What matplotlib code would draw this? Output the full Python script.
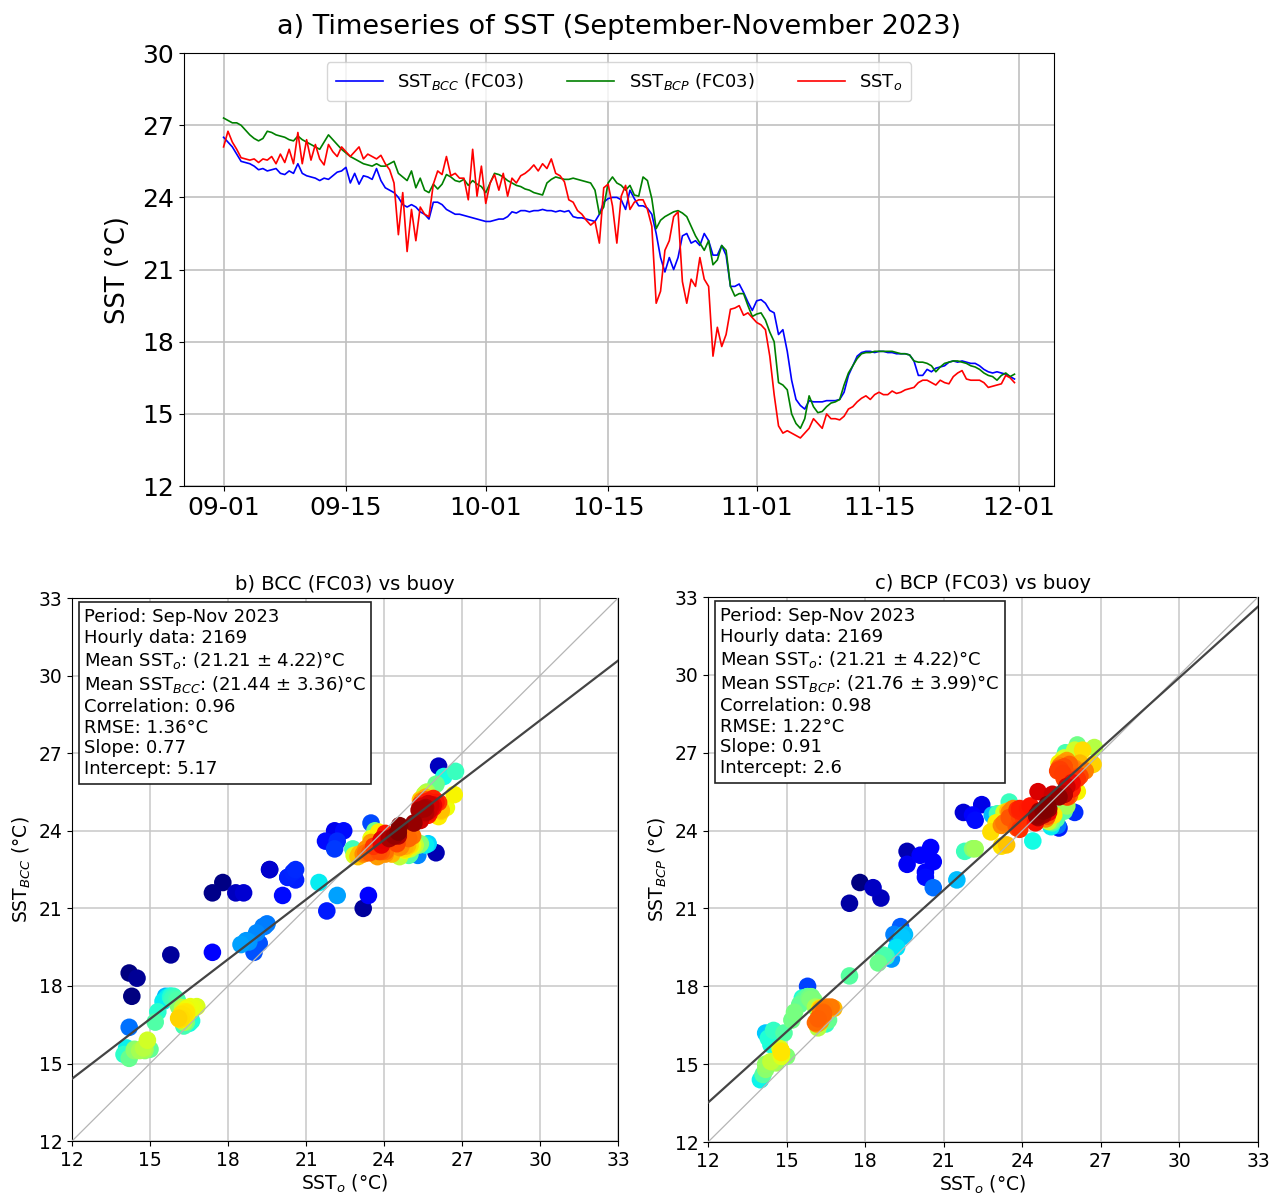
import numpy as np
import pandas as pd
import matplotlib
matplotlib.use('Agg')
import matplotlib.pyplot as plt
import matplotlib.dates as mdates

# SST series, one value every 12 h from 2023-09-01 00:00
sst_obs = [
    26.1, 26.75, 26.3, 26.0, 25.65, 25.6, 25.55, 25.6, 25.45, 25.6,
    25.55, 25.7, 25.4, 25.8, 25.45, 26.0, 25.4, 26.7, 25.4, 26.4,
    25.55, 26.2, 25.6, 25.35, 26.2, 25.9, 25.7, 26.1, 25.9, 25.7,
    25.9, 26.1, 25.6, 25.8, 25.7, 25.6, 25.75, 25.4, 25.15, 24.6,
    22.45, 24.2, 21.75, 23.5, 22.2, 23.6, 23.3, 23.2, 24.55, 25.1,
    24.95, 25.7, 24.9, 25.0, 24.8, 24.8, 23.9, 26.0, 24.05, 25.3,
    23.75, 24.6, 24.95, 24.3, 25.0, 24.05, 24.8, 24.6, 24.9, 25.0,
    25.15, 25.35, 25.1, 25.4, 25.2, 25.6, 25.0, 24.9, 24.65, 23.9,
    23.8, 23.45, 23.3, 23.05, 22.85, 23.0, 22.1, 24.4, 24.55, 23.65,
    22.1, 24.05, 24.5, 23.5, 23.8, 23.9, 23.9, 23.5, 22.8, 19.6,
    20.1, 21.8, 22.2, 23.2, 23.4, 20.5, 19.6, 20.6, 20.3, 21.5,
    20.6, 20.3, 17.4, 18.6, 17.8, 18.3, 19.35, 19.4, 19.5, 19.1,
    19.2, 19.0, 18.8, 18.7, 18.5, 17.4, 15.8, 14.5, 14.2, 14.3,
    14.2, 14.1, 14.0, 14.2, 14.4, 14.8, 14.6, 14.4, 15.0, 14.8,
    14.8, 14.75, 14.9, 15.2, 15.3, 15.5, 15.65, 15.75, 15.6, 15.8,
    15.9, 15.8, 15.8, 15.95, 15.85, 15.9, 16.0, 16.05, 16.1, 16.3,
    16.4, 16.4, 16.3, 16.2, 16.4, 16.3, 16.25, 16.55, 16.7, 16.8,
    16.45, 16.4, 16.4, 16.4, 16.3, 16.1, 16.15, 16.2, 16.25, 16.6,
    16.5, 16.3,
]
sst_bcc = [
    26.5, 26.3, 26.1, 25.8, 25.5, 25.45, 25.4, 25.3, 25.15, 25.2,
    25.1, 25.15, 25.2, 25.0, 24.95, 25.1, 25.0, 25.4, 25.0, 24.9,
    24.85, 24.8, 24.7, 24.8, 24.75, 24.9, 25.05, 25.1, 25.25, 24.6,
    25.0, 24.55, 24.9, 24.85, 24.75, 25.2, 24.7, 24.4, 24.3, 24.2,
    24.0, 23.7, 23.6, 23.7, 23.6, 23.4, 23.3, 23.1, 23.8, 23.8,
    23.7, 23.5, 23.4, 23.3, 23.3, 23.25, 23.2, 23.15, 23.1, 23.05,
    23.0, 23.0, 23.05, 23.1, 23.1, 23.2, 23.4, 23.35, 23.45, 23.45,
    23.4, 23.45, 23.45, 23.5, 23.45, 23.45, 23.4, 23.45, 23.4, 23.45,
    23.2, 23.15, 23.15, 23.1, 23.05, 23.0, 23.3, 23.8, 23.95, 24.0,
    24.0, 23.9, 23.5, 24.3, 23.95, 23.65, 23.65, 23.55, 23.3, 22.5,
    21.5, 20.9, 21.5, 21.0, 21.5, 22.4, 22.5, 22.1, 22.2, 22.0,
    22.5, 22.2, 21.6, 21.6, 22.0, 21.6, 20.3, 20.3, 20.4, 20.05,
    19.65, 19.3, 19.7, 19.75, 19.6, 19.3, 19.2, 18.3, 18.5, 17.6,
    16.4, 15.6, 15.35, 15.2, 15.55, 15.5, 15.5, 15.5, 15.55, 15.55,
    15.55, 15.6, 15.9, 16.6, 17.0, 17.4, 17.55, 17.6, 17.6, 17.55,
    17.6, 17.6, 17.55, 17.55, 17.5, 17.5, 17.5, 17.45, 17.2, 16.6,
    16.6, 16.85, 16.75, 16.9, 16.95, 17.0, 17.15, 17.2, 17.15, 17.2,
    17.15, 17.1, 17.1, 17.0, 16.85, 16.75, 16.7, 16.75, 16.7, 16.65,
    16.55, 16.45,
]
sst_bcp = [
    27.3, 27.2, 27.1, 27.1, 27.0, 26.8, 26.6, 26.45, 26.35, 26.45,
    26.75, 26.7, 26.6, 26.55, 26.5, 26.4, 26.35, 26.55, 26.4, 26.3,
    26.2, 26.1, 26.0, 26.3, 26.6, 26.4, 26.2, 26.0, 25.85, 25.7,
    25.6, 25.5, 25.4, 25.35, 25.3, 25.4, 25.3, 25.3, 25.4, 25.5,
    25.0, 24.85, 24.7, 25.1, 24.4, 24.8, 24.3, 24.2, 24.55, 24.35,
    24.55, 24.95, 24.85, 24.7, 24.65, 24.75, 24.5, 24.7, 24.55, 24.45,
    24.2, 24.6, 25.0, 24.95, 24.85, 24.7, 24.6, 24.5, 24.45, 24.35,
    24.3, 24.2, 24.15, 24.1, 24.6, 24.75, 24.85, 24.8, 24.75, 24.75,
    24.8, 24.75, 24.7, 24.65, 24.6, 24.3, 23.3, 23.6, 24.6, 24.85,
    24.6, 24.5, 24.3, 24.5, 24.1, 24.05, 24.85, 24.7, 23.95, 22.7,
    23.05, 23.2, 23.3, 23.4, 23.45, 23.35, 23.2, 22.8, 22.4, 22.1,
    21.8, 22.2, 21.2, 21.4, 22.0, 21.8, 20.3, 19.9, 20.0, 20.0,
    19.5, 19.05, 19.15, 19.2, 18.9, 18.4, 18.0, 16.3, 16.2, 16.0,
    15.0, 14.6, 14.4, 14.8, 15.75, 15.3, 15.05, 15.1, 15.3, 15.45,
    15.5, 15.6, 16.2, 16.7, 17.0, 17.3, 17.5, 17.55, 17.55, 17.6,
    17.6, 17.6, 17.6, 17.6, 17.55, 17.5, 17.5, 17.45, 17.2, 17.15,
    17.15, 17.1, 17.0, 16.75, 16.95, 17.1, 17.15, 17.2, 17.2, 17.15,
    17.1, 17.0, 16.95, 16.85, 16.7, 16.6, 16.55, 16.4, 16.6, 16.7,
    16.55, 16.65,
]

tick_dates = ['2023-09-01', '2023-09-15', '2023-10-01', '2023-10-15',
              '2023-11-01', '2023-11-15', '2023-12-01']
sst_ticks = [12, 15, 18, 21, 24, 27, 30]
scatter_ticks = [12, 15, 18, 21, 24, 27, 30, 33]

# statistics as printed in the panels
stats_bcc = ['Period: Sep-Nov 2023', 'Hourly data: 2169',
             r'Mean SST$_o$: (21.21 ± 4.22)°C',
             r'Mean SST$_{BCC}$: (21.44 ± 3.36)°C',
             'Correlation: 0.96', 'RMSE: 1.36°C', 'Slope: 0.77',
             'Intercept: 5.17']
stats_bcp = ['Period: Sep-Nov 2023', 'Hourly data: 2169',
             r'Mean SST$_o$: (21.21 ± 4.22)°C',
             r'Mean SST$_{BCP}$: (21.76 ± 3.99)°C',
             'Correlation: 0.98', 'RMSE: 1.22°C', 'Slope: 0.91',
             'Intercept: 2.6']
fit_bcc = (0.77, 5.17)
fit_bcp = (0.91, 2.6)

times = pd.date_range('2023-09-01', periods=len(sst_obs), freq='12h')


def kde_density(x, y):
    # plain gaussian kde (Scott bandwidth), no scipy needed
    xy = np.vstack([x, y])
    n = xy.shape[1]
    cov = np.cov(xy) * n ** (-1.0 / 3.0)
    inv = np.linalg.inv(cov)
    diff = xy[:, :, None] - xy[:, None, :]
    m = np.einsum('ijk,il,ljk->jk', diff, inv, diff)
    return np.exp(-0.5 * m).sum(axis=1)


fig = plt.figure(figsize=(12.79, 12.01), dpi=100)

# a) timeseries
ax = fig.add_axes([0.1439, 0.5953, 0.6802, 0.3605])
ax.plot(times, sst_bcc, color='blue', lw=1.2, label=r'SST$_{BCC}$ (FC03)')
ax.plot(times, sst_bcp, color='green', lw=1.2, label=r'SST$_{BCP}$ (FC03)')
ax.plot(times, sst_obs, color='red', lw=1.2, label=r'SST$_o$')
ax.set_ylim(12, 30)
ax.set_yticks(sst_ticks)
ax.set_xticks(pd.to_datetime(tick_dates))
ax.xaxis.set_major_formatter(mdates.DateFormatter('%m-%d'))
ax.tick_params(labelsize=18)
ax.set_ylabel('SST (°C)', fontsize=18.5, labelpad=8)
ax.set_title('a) Timeseries of SST (September-November 2023)', fontsize=19.5, pad=14)
ax.grid(True, color='#c0c0c0', lw=1.2)
ax.legend(loc='upper center', ncol=3, fontsize=13, handlelength=2.6,
          columnspacing=2.4, borderpad=0.5)


def scatter_panel(ax, obs, model, fit, stats, title, ylab):
    obs = np.asarray(obs)
    model = np.asarray(model)
    dens = kde_density(obs, model)
    order = np.argsort(dens)
    ax.scatter(obs[order], model[order], c=dens[order], cmap='jet', s=160,
               edgecolors='none', zorder=2)
    ax.plot([12, 33], [12, 33], color='#b5b5b5', lw=0.9, zorder=3)
    xs = np.array([12, 33])
    ax.plot(xs, fit[0] * xs + fit[1], color='#444444', lw=1.6, zorder=4)
    ax.set_xlim(12, 33)
    ax.set_ylim(12, 33)
    ax.set_xticks(scatter_ticks)
    ax.set_yticks(scatter_ticks)
    ax.tick_params(labelsize=13.5)
    ax.grid(True, color='#c8c8c8', lw=1.1, zorder=0)
    ax.set_axisbelow(True)
    ax.set_xlabel(r'SST$_o$ (°C)', fontsize=13.5, labelpad=2)
    ax.set_ylabel(ylab, fontsize=13.5)
    ax.set_title(title, fontsize=14, pad=6)
    ax.text(0.022, 0.982, '\n'.join(stats), transform=ax.transAxes,
            fontsize=13, va='top', ha='left', linespacing=1.2, zorder=5,
            bbox=dict(boxstyle='square,pad=0.3', fc='white', ec='#222222', lw=1.2))


ax_b = fig.add_axes([0.0563, 0.0499, 0.4269, 0.4521])
scatter_panel(ax_b, sst_obs, sst_bcc, fit_bcc, stats_bcc,
              'b) BCC (FC03) vs buoy', r'SST$_{BCC}$ (°C)')

ax_c = fig.add_axes([0.5536, 0.0491, 0.4300, 0.4538])
scatter_panel(ax_c, sst_obs, sst_bcp, fit_bcp, stats_bcp,
              'c) BCP (FC03) vs buoy', r'SST$_{BCP}$ (°C)')

fig.savefig('out.png', dpi=100)
